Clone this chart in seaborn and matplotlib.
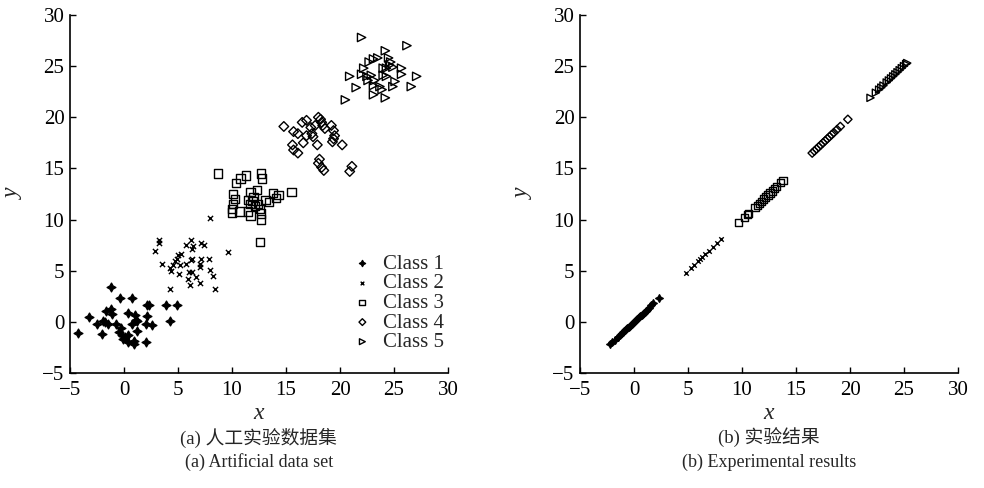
import matplotlib
matplotlib.use('Agg')
import matplotlib.pyplot as plt
import seaborn as sns
import pandas as pd

# ==========================================
# DATA
# ==========================================
c1_x = [-1.2, -0.4, 0.7, 2.1, 2.3, 3.9, 4.9, 4.3, -1.7, -1.2, -1.1, -3.2, -1.9, -1.8, -2.5,
        -1.5, -0.7, 0.4, 1.0, 1.1, 0.7, 1.2, 2.1, 2.0, 2.6, -4.3, -2.0, -0.5, -0.2, -0.1,
        0.4, 0.9, 0.9, 0.4, 1.2, 2.0, 0.1, -0.3]
c1_y = [3.4, 2.3, 2.3, 1.6, 1.6, 1.6, 1.6, 0.1, 1.1, 1.3, 0.8, 0.5, 0.1, 0.0, -0.2,
        -0.2, -0.2, 0.9, 0.7, 0.2, -0.2, 0.1, 0.6, -0.2, -0.3, -1.1, -1.2, -1.0, -1.3, -1.7,
        -2.0, -1.9, -2.2, -1.3, -0.9, -2.0, -1.5, -0.6]

c2_x = [3.2, 3.2, 6.2, 5.7, 6.4, 6.3, 7.1, 7.4, 2.9, 9.6, 5.3, 5.0, 4.9, 4.7, 6.3, 6.2,
        7.1, 7.9, 5.7, 5.2, 4.5, 4.3, 4.4, 3.5, 7.0, 7.0, 8.0, 8.2, 5.1, 6.0, 6.3, 6.7,
        5.9, 7.0, 6.1, 8.4, 4.3, 8.0]
c2_y = [8.0, 7.7, 8.0, 7.5, 7.4, 7.1, 7.7, 7.5, 6.9, 6.8, 6.6, 6.5, 6.1, 5.9, 6.1, 6.0,
        6.1, 6.1, 5.7, 5.6, 5.6, 5.3, 5.0, 5.7, 5.7, 5.4, 5.1, 4.5, 4.7, 4.9, 4.9, 4.4,
        4.2, 3.8, 3.6, 3.2, 3.2, 10.2]

c3_x = [8.7, 11.3, 10.8, 10.4, 12.7, 12.8, 15.5, 10.1, 10.3, 10.1, 10.0, 10.0, 10.7, 11.7,
        12.3, 11.5, 11.7, 11.5, 11.7, 12.1, 12.4, 12.6, 12.7, 12.7, 13.1, 13.4, 13.8, 14.3,
        14.1, 12.6, 11.9, 12.0]
c3_y = [14.5, 14.3, 14.0, 13.6, 14.5, 14.0, 12.7, 12.5, 12.0, 11.5, 11.0, 10.7, 10.8, 12.7,
        12.9, 11.9, 11.5, 10.8, 10.4, 11.3, 11.5, 11.0, 10.6, 10.0, 11.9, 11.7, 12.6, 12.4,
        12.1, 7.8, 11.8, 12.2]

c4_x = [14.8, 16.5, 16.9, 18.0, 18.3, 18.4, 18.6, 19.2, 19.4, 19.5, 19.4, 15.7, 16.1, 16.9,
        17.4, 17.5, 17.7, 17.3, 16.6, 15.6, 15.7, 16.1, 17.9, 19.3, 20.2, 18.1, 18.0, 18.3,
        18.5, 21.1, 20.9, 18.2]
c4_y = [19.1, 19.5, 19.7, 20.0, 19.5, 19.2, 18.9, 19.2, 18.7, 18.2, 17.9, 18.6, 18.4, 18.2,
        18.4, 18.1, 19.2, 19.0, 17.5, 17.3, 16.8, 16.5, 17.3, 17.6, 17.3, 15.9, 15.5, 15.1,
        14.8, 15.2, 14.7, 19.8]

c5_x = [22.0, 26.2, 24.2, 23.5, 23.1, 22.7, 24.5, 24.7, 24.6, 24.0, 24.3, 24.9, 25.7, 25.7,
        22.2, 22.0, 20.9, 22.5, 22.9, 22.6, 23.2, 24.0, 24.3, 25.1, 27.1, 26.6, 21.5, 23.1,
        23.7, 23.9, 24.9, 23.1, 24.2, 20.5]
c5_y = [27.8, 27.0, 26.5, 25.8, 25.7, 25.4, 25.8, 25.4, 25.1, 24.8, 24.8, 24.9, 24.8, 24.2,
        24.8, 24.2, 24.0, 24.0, 24.1, 23.6, 23.6, 24.1, 24.0, 23.5, 24.0, 23.0, 22.9, 23.1,
        23.0, 22.7, 23.0, 22.2, 21.9, 21.7]

# experimental results: points collapse onto the diagonal
r1_x = [-2.2, -2.0, -1.8, -1.5, -1.3, -1.1, -1.0, -0.9, -0.8, -0.7, -0.6, -0.5, -0.4, -0.3,
        -0.2, -0.1, 0.0, 0.1, 0.2, 0.3, 0.4, 0.5, 0.6, 0.7, 0.8, 0.9, 1.0, 1.1, 1.2, 1.4,
        1.6, 1.8, 2.3]
r1_y = [-2.2, -2.0, -1.8, -1.5, -1.3, -1.1, -1.0, -0.9, -0.8, -0.7, -0.6, -0.5, -0.4, -0.3,
        -0.2, -0.1, 0.0, 0.1, 0.2, 0.3, 0.4, 0.5, 0.6, 0.7, 0.8, 0.9, 1.0, 1.1, 1.2, 1.4,
        1.6, 1.8, 2.3]
r2_x = [4.8, 5.3, 5.6, 5.9, 6.1, 6.3, 6.6, 6.9, 7.3, 7.7, 8.1]
r2_y = [4.8, 5.3, 5.6, 5.9, 6.1, 6.3, 6.6, 6.9, 7.3, 7.7, 8.1]
r3_x = [9.7, 10.2, 10.5, 10.6, 11.2, 11.4, 11.6, 11.8, 12.0, 12.2, 12.4, 12.6, 12.8, 13.0,
        13.2, 13.6, 13.8]
r3_y = [9.7, 10.2, 10.5, 10.6, 11.2, 11.4, 11.6, 11.8, 12.0, 12.2, 12.4, 12.6, 12.8, 13.0,
        13.2, 13.6, 13.8]
r4_x = [16.5, 16.7, 16.9, 17.1, 17.3, 17.5, 17.7, 17.9, 18.1, 18.3, 18.5, 18.8, 19.1, 19.8]
r4_y = [16.5, 16.7, 16.9, 17.1, 17.3, 17.5, 17.7, 17.9, 18.1, 18.3, 18.5, 18.8, 19.1, 19.8]
r5_x = [21.9, 22.4, 22.7, 22.9, 23.1, 23.4, 23.6, 23.8, 24.0, 24.2, 24.4, 24.6, 24.8, 25.0,
        25.2, 25.3]
r5_y = [21.9, 22.4, 22.7, 22.9, 23.1, 23.4, 23.6, 23.8, 24.0, 24.2, 24.4, 24.6, 24.8, 25.0,
        25.2, 25.3]

class_names = ['Class 1', 'Class 2', 'Class 3', 'Class 4', 'Class 5']
ticks = [-5, 0, 5, 10, 15, 20, 25, 30]

# marker styles per class: (marker, filled, size)
STYLES = [((4, 1, 0), True, 40), ('x', True, 14), ('s', False, 36), ('D', False, 24), ('>', False, 36)]


def draw_panel(ax, xs, ys, scale):
    for i, (x, y) in enumerate(zip(xs, ys)):
        df = pd.DataFrame({'x': x, 'y': y})
        marker, filled, size = STYLES[i]
        if filled:
            sns.scatterplot(data=df, x='x', y='y', ax=ax, marker=marker, s=size * scale,
                            color='black', edgecolor='black', linewidth=1.0, label=class_names[i])
        else:
            sns.scatterplot(data=df, x='x', y='y', ax=ax, marker=marker, s=size * scale,
                            facecolors='none', edgecolor='black', linewidth=1.0, label=class_names[i])
    ax.set_xlim(-5, 30)
    ax.set_ylim(-5, 30)
    ax.set_xticks(ticks)
    ax.set_yticks(ticks)
    ax.tick_params(bottom=True, left=True, direction='in', length=4, width=1,
                   labelsize=15, colors='black')
    ax.tick_params(axis='x', pad=6)
    ax.tick_params(axis='y', pad=4)
    for s in ['top', 'right']:
        ax.spines[s].set_visible(False)
    for s in ['left', 'bottom']:
        ax.spines[s].set_linewidth(1.2)
        ax.spines[s].set_color('black')
    ax.set_xlabel('x', fontstyle='italic', fontsize=17, labelpad=2)
    ax.set_ylabel('y', fontstyle='italic', fontsize=17, labelpad=13)


sns.set_theme(style='white')
plt.rcParams['font.family'] = ['Liberation Serif', 'Noto Sans CJK SC']

fig = plt.figure(figsize=(9.84, 4.88), dpi=100)
ax1 = fig.add_axes([0.0711, 0.2357, 0.3842, 0.7336])
ax2 = fig.add_axes([0.5894, 0.2357, 0.3842, 0.7336])

draw_panel(ax1, [c1_x, c2_x, c3_x, c4_x, c5_x], [c1_y, c2_y, c3_y, c4_y, c5_y], 1.0)
draw_panel(ax2, [r1_x, r2_x, r3_x, r4_x, r5_x], [r1_y, r2_y, r3_y, r4_y, r5_y], 0.75)

ax1.legend(loc='lower right', bbox_to_anchor=(1.045, 0.0), frameon=False, fontsize=15,
           handletextpad=0.0, labelspacing=0.0, markerscale=0.7, borderpad=0.5)
ax2.get_legend().remove()

# captions
fig.text(0.263, 0.1025, '(a) 人工实验数据集', ha='center', va='center', fontsize=13.5)
fig.text(0.263, 0.0533, '(a) Artificial data set', ha='center', va='center', fontsize=13)
fig.text(0.7815, 0.1025, '(b) 实验结果', ha='center', va='center', fontsize=13.5)
fig.text(0.7815, 0.0533, '(b) Experimental results', ha='center', va='center', fontsize=13)

fig.savefig('out.png', dpi=100)
